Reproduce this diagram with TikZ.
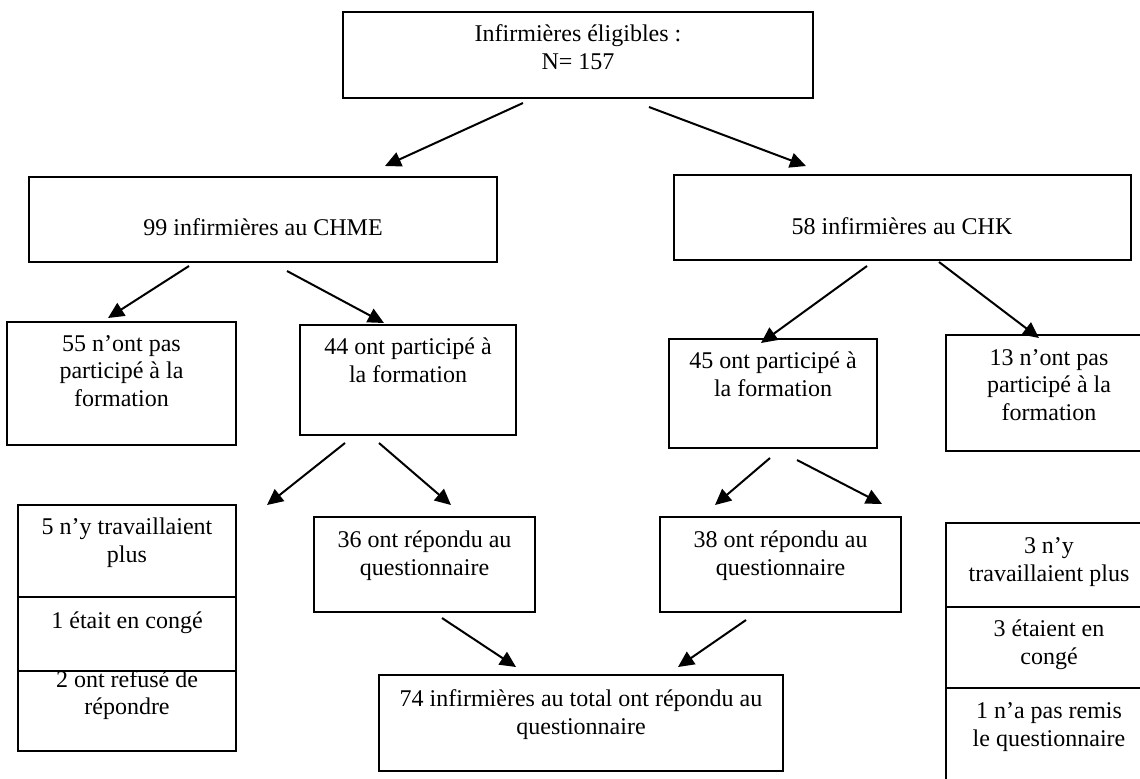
\documentclass[tikz,border=0pt]{standalone}
\usepackage{fontspec}
\setmainfont{Liberation Serif}
\usetikzlibrary{arrows.meta,fit}
\begin{document}
\begin{tikzpicture}[x=0.5pt,y=-0.5pt,
  box/.style={draw,line width=0.9pt,inner sep=0pt},
  txt/.style={align=center,inner sep=0pt,font=\fontsize{12}{13.8}\selectfont,
    execute at begin node=\strut,execute at end node=\strut},
  flow/.style={line width=1pt,-{Triangle[length=8pt,width=7.5pt]}}]
\useasboundingbox (0,0) rectangle (1140,778);
\clip (0,0) rectangle (1140,778);

% boxes
\node[box,fit={(343,12) (813,98)}] (top) {};
\node[box,fit={(29,177) (497,262)}] (chme) {};
\node[box,fit={(674,175) (1131,260)}] (chk) {};
\node[box,fit={(7,322) (236,445)}] (non55) {};
\node[box,fit={(300,325) (516,435)}] (part44) {};
\node[box,fit={(669,339) (877,448)}] (part45) {};
\node[box,fit={(946,335) (1152,451)}] (non13) {};
\node[box,fit={(18,505) (236,597)}] (lsa) {};
\node[box,fit={(18,597) (236,671)}] (lsb) {};
\node[box,fit={(18,671) (236,751)}] (lsc) {};
\node[box,fit={(314,517) (535,612)}] (rep36) {};
\node[box,fit={(660,517) (901,612)}] (rep38) {};
\node[box,fit={(379,675) (783,771)}] (tot74) {};
\node[box,fit={(946,523) (1152,607)}] (rsa) {};
\node[box,fit={(946,607) (1152,688)}] (rsb) {};
\node[box,fit={(946,688) (1152,800)}] (rsc) {};

% texts
\node[txt] (toptxt) at (578,51) {Infirmières éligibles :\\N= 157};
\node[txt] (chmetxt) at (263,230) {99 infirmières au CHME};
\node[txt] (chktxt) at (902,229) {58 infirmières au CHK};
\node[txt] (non55txt) at (121.5,375) {55 n’ont pas\\participé à la\\formation};
\node[txt] (part44txt) at (408,364.5) {44 ont participé à\\la formation};
\node[txt] (part45txt) at (773,378.5) {45 ont participé à\\la formation};
\node[txt] (non13txt) at (1049,389) {13 n’ont pas\\participé à la\\formation};
\node[txt] (lsatxt) at (127,544.5) {5 n’y travaillaient\\plus};
\node[txt] (lsbtxt) at (127,623) {1 était en congé};
\node[txt] (lsctxt) at (127,696.5) {2 ont refusé de\\répondre};
\node[txt] (rep36txt) at (424.5,557) {36 ont répondu au\\questionnaire};
\node[txt] (rep38txt) at (780.5,557) {38 ont répondu au\\questionnaire};
\node[txt] (tot74txt) at (581,716) {74 infirmières au total ont répondu au\\questionnaire};
\node[txt] (rsatxt) at (1049,563.5) {3 n’y\\travaillaient plus};
\node[txt] (rsbtxt) at (1049,646.5) {3 étaient en\\congé};
\node[txt] (rsctxt) at (1049,728.5) {1 n’a pas remis\\le questionnaire};

% arrow end points
\coordinate (a1s) at (523,103);  \coordinate (a1e) at (385,166);
\coordinate (a2s) at (649,107);  \coordinate (a2e) at (806,166);
\coordinate (a3s) at (189,266);  \coordinate (a3e) at (108,318);
\coordinate (a4s) at (287,271);  \coordinate (a4e) at (384,323);
\coordinate (a5s) at (867,266);  \coordinate (a5e) at (761,343);
\coordinate (a6s) at (939,262);  \coordinate (a6e) at (1039,338);
\coordinate (a7s) at (345,443);  \coordinate (a7e) at (267,505);
\coordinate (a8s) at (379,443);  \coordinate (a8e) at (451,505);
\coordinate (a9s) at (770,458);  \coordinate (a9e) at (715,505);
\coordinate (a10s) at (797,460); \coordinate (a10e) at (882,504);
\coordinate (a11s) at (442,618); \coordinate (a11e) at (516,667);
\coordinate (a12s) at (746,620); \coordinate (a12e) at (678,667);

% connectors
\foreach \i in {1,...,12} \draw[flow] (a\i s) -- (a\i e);
\end{tikzpicture}
\end{document}
